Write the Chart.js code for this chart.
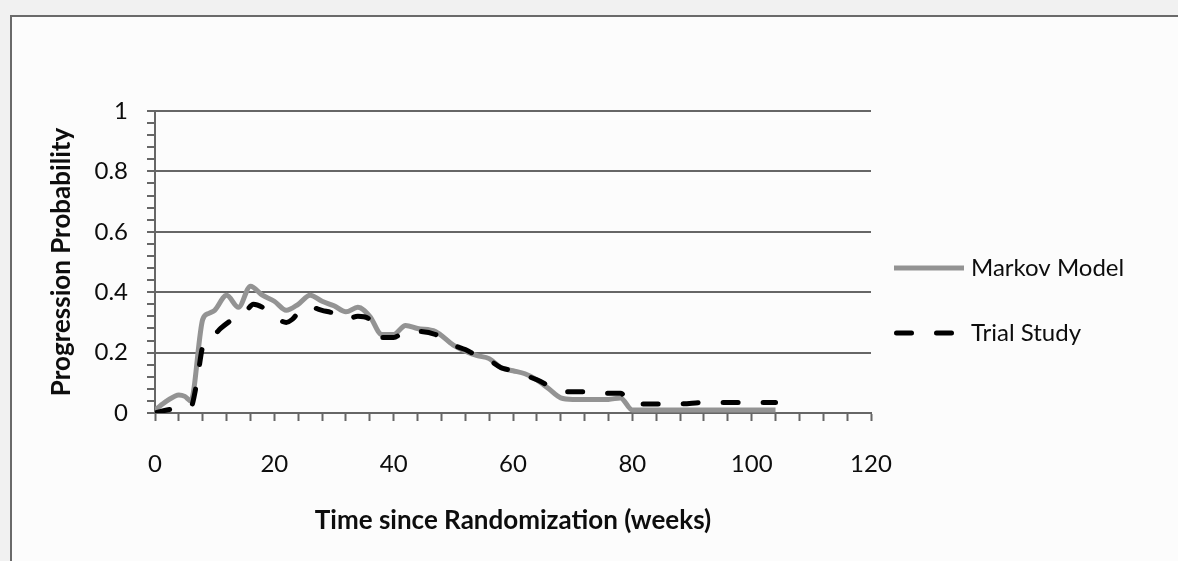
<!DOCTYPE html>
<html lang="en">
<head>
    <meta charset="UTF-8">
    <title>Progression Probability</title>
    <script src="https://cdn.jsdelivr.net/npm/chart.js@4.4.1/dist/chart.umd.min.js"></script>
    <style>
        html, body {
            margin: 0;
            padding: 0;
            overflow: hidden;
            background: #f1f1f1;
        }
        /* outer box around the whole chart, runs off the right and bottom edge */
        .frame {
            position: absolute;
            left: 10px;
            top: 15px;
            width: 1220px;
            height: 620px;
            border: 2px solid #6a6a6a;
            background: #fcfcfc;
        }
        .chart-box {
            position: absolute;
            left: 0;
            top: 0;
            width: 1178px;
            height: 561px;
        }
    </style>
</head>
<body>
    <div class="frame"></div>
    <div class="chart-box">
        <canvas id="progressionChart"></canvas>
    </div>

    <script>
        // Weeks since randomization and progression probability for each curve
        const markovWeeks  = [0, 2, 4, 5, 6, 8, 9, 10, 12, 14, 16, 18, 20, 22, 24, 26, 28, 30, 32, 34, 36, 38, 40, 42, 44, 47,
                              50, 52, 54, 56, 58, 60, 62, 64, 66, 68, 70, 72, 74, 76, 78, 80, 84, 88, 92, 96, 100, 104];
        const markovValues = [0.01, 0.04, 0.06, 0.055, 0.04, 0.31, 0.33, 0.34, 0.39, 0.35, 0.42, 0.39, 0.37, 0.34, 0.36, 0.39,
                              0.37, 0.355, 0.335, 0.35, 0.32, 0.26, 0.26, 0.29, 0.28, 0.27, 0.225, 0.205, 0.19, 0.18, 0.15,
                              0.14, 0.13, 0.11, 0.08, 0.05, 0.045, 0.045, 0.045, 0.045, 0.05, 0.01, 0.01, 0.01, 0.01, 0.01,
                              0.01, 0.01];

        const trialWeeks  = [0, 2, 4, 6, 7, 8, 10, 11, 13, 15, 16.5, 18, 20, 22, 23, 25, 26, 28, 30, 32, 34, 36, 38, 40, 42,
                             44, 47, 50, 52, 54, 56, 58, 60, 62, 64, 66, 68, 70, 72, 74, 78, 80, 84, 88, 92, 96, 100, 104];
        const trialValues = [0, 0.01, 0.015, 0.02, 0.10, 0.22, 0.26, 0.28, 0.31, 0.33, 0.36, 0.35, 0.32, 0.30, 0.31, 0.35,
                             0.35, 0.34, 0.33, 0.31, 0.32, 0.31, 0.25, 0.25, 0.27, 0.27, 0.26, 0.225, 0.21, 0.19, 0.175,
                             0.15, 0.14, 0.125, 0.11, 0.09, 0.07, 0.07, 0.07, 0.065, 0.065, 0.03, 0.03, 0.03, 0.035, 0.035,
                             0.035, 0.035];

        const seriesNames = ['Markov Model', 'Trial Study'];
        const xTickLabels = [0, 20, 40, 60, 80, 100, 120];
        const yTickLabels = [0, 0.2, 0.4, 0.6, 0.8, 1];

        const toPoints = (weeks, values) => weeks.map((w, i) => ({ x: w, y: values[i] }));
        const isYLabel = v => yTickLabels.some(t => Math.abs(t - v) < 1e-6);

        const axisColor = '#666';
        const textColor = '#0d0d0d';

        // legend drawn to the right of the plot, one line sample + name per dataset
        const sideLegend = {
            id: 'sideLegend',
            afterDraw(chart, args, opts) {
                const ctx = chart.ctx;
                chart.data.datasets.forEach((ds, i) => {
                    const y = opts.top + i * opts.spacing;
                    const round = ds.borderCapStyle === 'round';
                    ctx.save();
                    ctx.strokeStyle = ds.borderColor;
                    ctx.lineWidth = ds.borderWidth;
                    ctx.lineCap = ds.borderCapStyle || 'butt';
                    ctx.setLineDash(ds.borderDash || []);
                    ctx.beginPath();
                    ctx.moveTo(opts.left + (round ? ds.borderWidth / 2 : 0), y);
                    ctx.lineTo(opts.left + opts.lineLength, y);
                    ctx.stroke();
                    ctx.setLineDash([]);
                    ctx.fillStyle = textColor;
                    ctx.font = opts.font;
                    ctx.textBaseline = 'middle';
                    ctx.fillText(ds.label, opts.left + opts.lineLength + 7, y);
                    ctx.restore();
                });
            }
        };

        function drawChart() {
            Chart.defaults.font.family = 'Lato, Carlito, sans-serif';
            Chart.defaults.color = textColor;

            new Chart(document.getElementById('progressionChart'), {
                type: 'line',
                data: {
                    datasets: [
                        {
                            label: seriesNames[0],
                            data: toPoints(markovWeeks, markovValues),
                            borderColor: '#939393',
                            borderWidth: 5,
                            borderCapStyle: 'butt',
                            pointRadius: 0,
                            tension: 0.25,
                            cubicInterpolationMode: 'monotone',
                            order: 1
                        },
                        {
                            label: seriesNames[1],
                            data: toPoints(trialWeeks, trialValues),
                            borderColor: '#000',
                            borderWidth: 5,
                            borderDash: [15, 25],
                            borderCapStyle: 'round',
                            pointRadius: 0,
                            tension: 0.25,
                            cubicInterpolationMode: 'monotone',
                            order: 0
                        }
                    ]
                },
                options: {
                    responsive: true,
                    maintainAspectRatio: false,
                    animation: false,
                    layout: { padding: { left: 13, top: 111, right: 307, bottom: 0 } },
                    plugins: {
                        legend: { display: false },
                        tooltip: { enabled: false },
                        sideLegend: { left: 894, top: 268, spacing: 65, lineLength: 70, font: '24px Lato, Carlito, sans-serif' }
                    },
                    scales: {
                        x: {
                            type: 'linear',
                            min: 0,
                            max: 120,
                            afterFit: s => { s.height = 148; },
                            border: { color: axisColor, width: 2 },
                            grid: { drawOnChartArea: false, tickLength: 8, tickColor: axisColor, tickWidth: 2 },
                            ticks: {
                                stepSize: 4,
                                autoSkip: false,
                                maxRotation: 0,
                                padding: 29,
                                font: { size: 24 },
                                callback: v => xTickLabels.includes(v) ? String(v) : ''
                            },
                            title: {
                                display: true,
                                text: 'Time since Randomization (weeks)',
                                font: { size: 26, weight: 'bold' },
                                padding: { top: 0, bottom: 25 }
                            }
                        },
                        y: {
                            min: 0,
                            max: 1,
                            afterFit: s => { s.width = 142; },
                            border: { color: axisColor, width: 2 },
                            grid: {
                                tickLength: 8,
                                tickColor: axisColor,
                                tickWidth: 2,
                                lineWidth: 2,
                                color: c => (c.tick && isYLabel(c.tick.value) ? axisColor : 'rgba(0,0,0,0)')
                            },
                            ticks: {
                                stepSize: 0.04,
                                autoSkip: false,
                                padding: 19,
                                font: { size: 24 },
                                callback: v => isYLabel(v) ? String(+v.toFixed(1)) : ''
                            },
                            title: {
                                display: true,
                                text: 'Progression Probability',
                                font: { size: 26, weight: 'bold' },
                                padding: { top: 33, bottom: 0 }
                            }
                        }
                    }
                },
                plugins: [sideLegend]
            });
        }

        // make sure the local fonts are ready before the canvas is painted
        Promise.all([
            document.fonts.load('24px Lato'),
            document.fonts.load('bold 26px Lato')
        ]).then(drawChart, drawChart);
    </script>
</body>
</html>
